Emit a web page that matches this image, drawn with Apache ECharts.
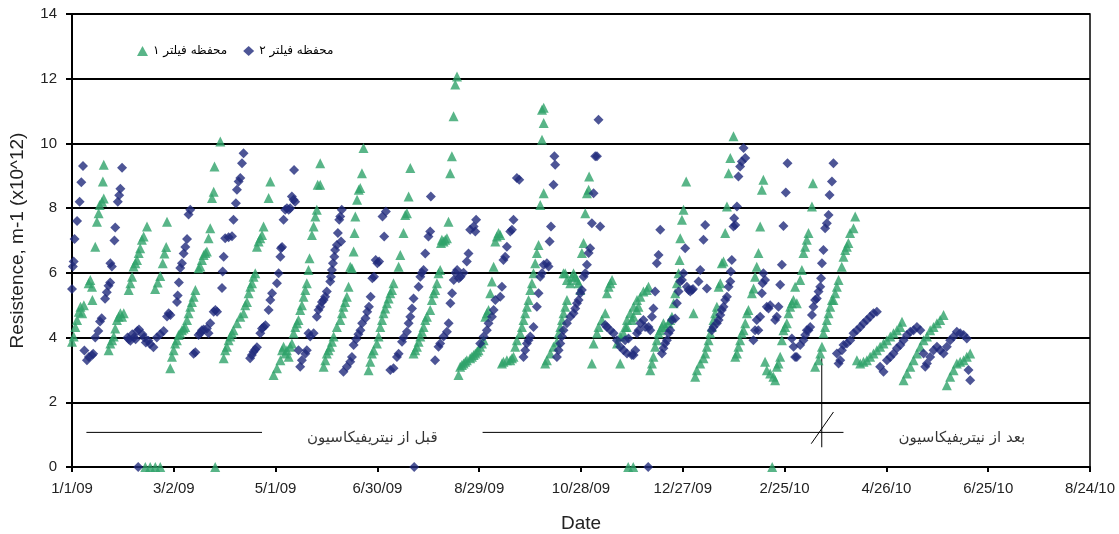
<!DOCTYPE html>
<html>
<head>
<meta charset="utf-8">
<script src="https://cdn.jsdelivr.net/npm/echarts@6/dist/echarts.min.js"></script>
<style>
html,body{margin:0;padding:0;background:#fff;}
#chart{width:1119px;height:534px;}
</style>
</head>
<body>
<div id="chart"></div>
<script>
// x values are days after 1/1/09
const tickLabels = ['1/1/09','3/2/09','5/1/09','6/30/09','8/29/09','10/28/09','12/27/09','2/25/10','4/26/10','6/25/10','8/24/10'];
const seriesNames = ['محفظه فیلتر ۱', 'محفظه فیلتر ۲'];
const noteBefore = 'قبل از نیتریفیکاسیون';
const noteAfter = 'بعد از نیتریفیکاسیون';

const filter1Points = [
 [0,3.87],[1,4.03],[2,4.33],[3,4.54],[4,4.8],[5,4.95],[6,4.75],[7,5.0],[9.8,5.68],[10.8,5.78],[11.8,5.57],[12,5.16],[13.7,6.81],[14.7,7.58],[15.7,7.84],[16.3,8.1],[17.7,8.2],[18.7,8.3],[18.2,8.82],[18.7,9.34],
 [21.6,3.61],[22.6,3.82],[23.6,3.92],[24.6,4.03],[25.5,4.28],[26.5,4.54],[27.5,4.64],[28.5,4.75],[29.5,4.64],[30.5,4.75],[33.4,5.47],[34.4,5.68],[35.4,5.88],[36.3,6.2],[37.3,6.3],[38.3,6.4],[39.3,6.61],[40.2,6.76],[41.2,7.02],[42.2,7.12],[44.2,7.43],
 [49,5.5],[50.5,5.7],[52,5.9],[53.5,6.3],[54.5,6.6],[55.5,6.8],[56,7.58],
 [57.9,3.05],[58.9,3.41],[59.9,3.61],[60.8,3.82],[61.8,3.92],[62.8,4.08],[63.8,4.13],[64.8,4.23],[65.8,4.28],[66.8,4.33],[67.8,4.54],[68.7,4.75],[69.7,4.95],[70.7,5.1],[71.7,5.26],[72.7,5.47],[74.6,6.14],[75.6,6.2],[76.6,6.4],[77.6,6.55],[78.6,6.61],[79.5,6.66],[80.5,7.07],[81.5,7.38],[82.5,8.31],[83.5,8.51],[84,9.29],[87.4,10.06],
 [89.4,3.36],[90.3,3.61],[91.3,3.72],[92.3,3.92],[93.3,4.03],[94.3,4.13],[95.2,4.23],[97.2,4.44],[99.2,4.64],[101.1,4.75],[102.1,5.0],[103.1,5.1],[104.1,5.37],[105.1,5.57],[106.1,5.68],[107,5.88],[108,5.99],[109,6.81],[110,6.97],[111,7.07],[112,7.17],[112.9,7.43],[115.9,8.31],[116.9,8.82],
 [118.8,2.84],[120.8,3.05],[122.8,3.3],[123.8,3.61],[124.7,3.72],[125.7,3.51],[126.7,3.61],[127.7,3.41],[128.6,3.72],[129.6,3.82],[130.6,4.13],[131.6,4.33],[132.6,4.44],[133.5,4.54],[134.5,4.85],[135.5,5.0],[136.5,5.26],[137.5,5.47],[138.4,5.68],[139.4,6.09],[140,6.45],[141.4,7.17],[142.4,7.43],[143.4,7.74],[144.3,7.95],[144.8,8.72],[146.3,8.72],[146.3,9.39],
 [148.3,3.1],[149.3,3.3],[150.2,3.51],[151.2,3.61],[152.2,3.72],[153.2,3.87],[154.2,4.03],[156.1,4.33],[158.1,4.54],[159.1,4.75],[160,4.95],[161,5.1],[162,5.26],[163,5.57],[164,6.19],[165,6.14],[166,6.66],[166.5,7.23],[167,7.74],[168,8.26],[169,8.57],[169.9,8.62],[170.9,9.08],[171.8,9.86],
 [174.8,2.99],[175.8,3.25],[176.8,3.51],[177.8,3.61],[179.7,3.82],[180.7,4.03],[181.7,4.33],[182.7,4.54],[183.6,4.75],[184.6,4.9],[185.6,5.06],[186.6,5.21],[187.6,5.37],[188.6,5.47],[189.5,5.68],[192.5,6.19],[193.5,6.55],[195.4,7.23],[196.4,7.79],[197.4,7.84],[198.4,8.36],[199.4,9.24],
 [201.3,3.51],[202.3,3.61],[203.3,3.72],[204.3,3.87],[205.3,4.03],[206.2,4.18],[207.2,4.33],[208.2,4.54],[209.2,4.64],[211.1,4.85],[212.1,5.16],[213.1,5.37],[214.1,5.47],[215.1,5.68],[216,5.99],[217,6.09],[217.5,6.92],[218,7.02],[219,6.97],[220,7.02],[221,7.07],[221.9,7.58],[222.9,9.08],[223.9,9.6],[224.9,10.84],[225.9,11.82],[226.9,12.07],
 [227.8,2.84],[228.8,3.1],[229.8,3.15],[230.8,3.2],[231.8,3.25],[232.7,3.3],[234.7,3.36],[235.7,3.41],[236.7,3.46],[237.7,3.51],[238.7,3.56],[239.6,3.61],[240.6,3.72],[241.6,3.82],[242.6,3.92],[243.6,4.64],[244.5,4.75],[245.5,4.85],[246.5,5.37],[247.5,5.73],[248.5,6.19],[249.5,6.97],[250.4,7.12],[251.4,7.23],[252.4,7.17],
 [253.4,3.2],[254.3,3.25],[256.3,3.3],[258.3,3.3],[259.3,3.36],[260.2,3.41],[261.2,3.72],[262.2,3.92],[264.2,4.13],[265.2,4.33],[266.1,4.54],[267.1,4.75],[268.1,4.95],[269.1,5.16],[270.1,5.47],[271.1,5.68],[272,5.99],[273,6.3],[274,6.61],[275,6.86],[276,8.1],[278,8.46],[277,10.11],[278,10.63],[277,11.04],[278,11.1],
 [278.9,3.2],[279.9,3.3],[281.9,3.51],[283.8,3.72],[285.8,3.87],[286.8,4.13],[287.8,4.33],[288.8,4.54],[289.7,4.75],[290.7,4.95],[291.7,5.16],[289.7,5.99],[290.7,5.99],[291.7,5.78],[293.7,5.68],[294.6,5.88],[295.6,5.99],[296.6,5.88],[297.6,5.78],[298.6,5.68],[299.6,5.47],[300.5,6.61],[301.5,6.92],[302.5,7.84],[303.5,8.46],[304.5,8.57],[304.8,8.98],
 [306.4,3.2],[307.4,3.82],[309.4,4.13],[310.3,4.33],[312.3,4.54],[314.3,4.75],[315.3,5.37],[316.3,5.57],[317.3,5.68],[318.3,5.78],[321.2,3.82],[323.1,4.03],[326.1,4.33],[327.1,4.54],[329,4.75],[330,4.54],[331,4.64],[332.9,4.85],[333.9,4.95],[323.1,3.2],[325,4.13],[327,4.33],[331,4.95],[333,5.16],[335,5.26],[336.8,5.42],[338.8,5.47],[339.8,5.57],
 [340.8,2.99],[341.8,3.2],[342.7,3.41],[343.7,3.72],[344.7,3.92],[345.7,4.13],[346.7,4.23],[347.7,4.33],[348.6,4.44],[349.6,4.33],[351.6,4.44],[352.6,4.54],[353.6,4.64],[354.6,5.06],[355.5,5.37],[356.5,5.68],[357.5,5.99],[358.1,6.4],[358.5,7.07],[359.5,7.64],[360.4,7.95],[362,8.82],[366.3,4.75],
 [367.3,2.79],[368.3,2.99],[370.3,3.2],[372.2,3.36],[373.2,3.51],[374.2,3.72],[375.2,3.92],[376.2,4.13],[377.1,4.33],[378.1,4.54],[379.1,4.75],[380.1,4.95],[381.1,5.57],[382.1,5.68],[383,6.3],[384,6.35],[385,7.23],[386,8.05],[387,9.08],[388,9.55],[389.9,10.22],
 [390.9,3.41],[391.9,3.51],[392.8,3.72],[393.8,3.92],[394.8,4.13],[395.8,4.23],[396.8,4.44],[397.8,4.75],[398.7,4.85],[400.7,5.37],[401.7,5.52],[402.6,5.88],[403.6,6.19],[404.6,6.61],[405.6,7.43],[406.6,8.57],[407.5,8.88],
 [408.5,3.25],[409.5,2.99],[411.5,2.89],[413.4,2.79],[414.4,2.68],[415.4,3.1],[416.4,3.2],[417.4,3.41],[418.4,3.92],[419.3,4.23],[420.3,4.33],[421.3,4.44],[422.3,4.75],[423.3,4.95],[424.3,5.06],[425.2,5.16],[426.2,5.57],[427.2,5.06],[429.2,5.78],[430.2,6.09],[431.1,6.61],[432.1,6.81],[433.1,7.02],[434.1,7.23],[436.1,8.05],[436.7,8.77],
 [438,3.1],[440,3.3],[441,3.51],[442,3.72],[442.9,4.13],[443.9,4.33],[444.9,4.54],[445.9,4.75],[446.9,4.95],[447.9,5.16],[448.8,5.16],[449.8,5.37],[450.8,5.57],[451.8,5.78],[453.7,6.19],[454.7,6.5],[455.7,6.71],[456.7,6.81],[457.6,6.92],[458.6,7.23],[460.6,7.38],[461.6,7.74],
 [462.6,3.3],[464.6,3.2],[466.5,3.25],[468.5,3.3],[470.4,3.41],[472.4,3.51],[474.4,3.61],[476.3,3.72],[478.3,3.82],[480.3,3.92],[482.3,4.03],[484.2,4.13],[486.2,4.23],[488.2,4.33],[489.2,4.49],
 [490.1,2.68],[492.1,2.89],[494.1,3.1],[496,3.3],[498,3.51],[500,3.72],[501.9,3.92],[503.9,4.03],[505.8,4.23],[507.8,4.33],[509.8,4.44],[511.7,4.54],[513.7,4.7],
 [515.6,2.53],[517.6,2.79],[519.6,2.99],[521.5,3.2],[523.5,3.25],[525.5,3.3],[527.4,3.41],[529.4,3.51],
 [43.2,0],[46.1,0],[49.1,0],[52,0],[84.4,0],[327.8,0],[330.8,0],[412.7,0]
];

const filter2Points = [
 [0,5.5],[0.5,6.2],[1,6.35],[1.5,7.05],[3,7.6],[4.5,8.2],[5.5,8.8],[6.5,9.3],
 [7.3,3.6],[8.8,3.3],[10,3.4],[11.8,3.45],[12.5,3.5],
 [13.7,4.0],[15.5,4.2],[16.5,4.5],[17.5,4.6],[19.5,5.2],[20.5,5.4],[21.5,5.6],[22.5,5.7],[22.6,6.3],[23.5,6.2],[25,7.0],[25.5,7.4],[27,8.2],[27.8,8.4],[28.5,8.6],[29.5,9.25],
 [32.7,4.0],[33.5,3.95],[34.4,3.9],[35.5,4.1],[36.5,4.0],[37.5,3.95],[38.5,4.2],[39.5,4.25],[41.5,4.1],[42.5,4.0],[43.5,3.85],[45,3.9],[46,3.8],[48,3.7],[50,4.0],[52,4.1],[54,4.2],[56,4.65],[57,4.75],[58,4.7],[61.9,5.1],[62.3,5.3],[63,5.7],[63.8,6.15],[64.8,6.3],[65.8,6.6],[66.8,6.8],[67.8,7.05],[68.7,7.8],[69.7,7.95],
 [71.7,3.5],[72.7,3.55],[74.6,4.08],[75.6,4.13],[76.6,4.23],[77.6,4.25],[79.5,4.28],[80.5,4.13],[81.5,4.44],[83.5,4.8],[84.5,4.85],[85.5,4.8],[88.4,5.53],[88.8,6.04],[89.4,6.5],[90.3,7.07],[92.3,7.1],[94.3,7.13],[95.2,7.64],[96.6,8.15],[97.2,8.57],[98.2,8.82],[99.2,8.93],[100.2,9.39],[101.1,9.7],
 [105,3.36],[106,3.46],[107,3.56],[108,3.63],[109,3.7],[111,4.13],[112,4.28],[113,4.33],[114,4.38],[115.9,4.85],[116.9,5.16],[117.9,5.37],[120.8,5.68],[121.8,5.99],[122.8,6.5],[123.2,6.76],[123.8,6.8],[124.7,7.64],[125.7,7.95],[126.7,8.0],[127.7,7.95],[128.6,8.0],[129.6,8.36],[130.6,8.26],[131.5,8.2],[130.9,9.18],
 [133.5,3.61],[134.5,3.1],[135.5,3.3],[137.5,3.5],[138.4,3.61],[139.4,4.13],[140.4,4.03],[142.4,4.13],[144.3,4.64],[145.3,4.85],[146.3,4.95],[147.3,5.1],[148.3,5.16],[149.2,5.26],[150.2,5.42],[152.2,5.73],[152.6,5.88],[153.2,6.09],[153.8,6.3],[154.6,6.5],[155.1,6.71],[156.1,6.86],[156.7,7.23],[157.5,7.64],[158.1,7.74],[159,7.95],[158.6,6.97],
 [160,2.94],[162,3.1],[164,3.25],[165,3.4],[166,3.77],[167.5,3.95],[168.8,4.1],[170,4.23],[171,4.44],[173,4.6],[174,4.8],[175,4.95],[176,5.26],[177,5.83],[178,5.88],[179,6.4],[180,6.3],[181,6.35],[183,7.74],[184,7.12],[185,7.9],
 [187.6,3.0],[189.5,3.05],[191.5,3.4],[192.5,3.5],[194.5,3.87],[195.4,4.0],[197.4,4.18],[198.4,4.44],[199.4,4.64],[200.4,4.9],[201.3,5.21],[204.3,5.57],[205.3,5.88],[206.2,6.0],[207.2,6.09],[208.2,6.6],[210.1,7.12],[211.1,7.28],[211.5,8.36],
 [214,3.3],[216,3.72],[217,3.82],[219,4.03],[221,4.18],[222,4.44],[223,5.06],[224,5.37],[225,5.78],[226,6.0],[227,6.09],[228,5.83],[229,5.88],[230.8,6.0],[232.7,6.35],[233.7,6.6],[234.7,7.33],[236.7,7.43],[237.7,7.28],[238.2,7.64],
 [240.6,3.82],[242.6,4.03],[244.5,4.23],[245.5,4.44],[247.5,4.64],[248.5,4.85],[249.5,5.16],[252.4,5.26],[253.4,5.57],[254.3,6.4],[255.3,6.5],[256.3,6.81],[258.3,7.28],[259.3,7.33],[260.2,7.64],[262.2,8.93],[263.6,8.88],
 [266.1,3.4],[267.1,3.61],[268.1,3.82],[269.1,3.92],[270.1,4.03],[272,4.33],[274,4.95],[275,5.37],[276,5.88],[277,5.99],[278,6.25],[279.9,6.3],[280.9,6.2],[281.5,6.97],[282.3,7.43],[283.8,8.72],[284.8,9.34],[284.3,9.6],
 [285.8,3.4],[286.8,3.61],[287.8,3.82],[288.8,4.03],[289.7,4.23],[291.7,4.44],[293.7,4.64],[295.6,4.75],[296.6,4.9],[297.6,5.06],[298.6,5.16],[299.6,5.37],[300.5,5.47],[301.5,5.88],[302.5,5.99],[303.5,6.25],[304.5,6.61],[305.4,6.76],[306.4,7.53],[307.4,8.46],[308.4,9.6],[309.4,9.6],[310.3,10.73],[311.3,7.43],
 [314.3,4.39],[315.3,4.33],[317.3,4.23],[319.2,4.13],[321.2,3.92],[323.1,3.72],[325.1,3.61],[327.1,3.51],[330,3.46],[332,3.61],[326,3.92],[328,3.97],[331,3.46],[333,4.13],[334,4.23],[335,4.44],[336.8,4.54],[337.8,4.33],[339.8,4.33],[340.8,4.23],[341.8,4.64],[342.7,4.9],[343.7,5.42],[344.7,6.3],[345.7,6.55],[346.7,7.33],
 [347.7,3.51],[348.6,3.67],[349.6,3.82],[350.6,3.92],[351.6,4.13],[352.6,4.23],[353.6,4.54],[355.5,4.59],[356.5,5.06],[357.5,5.42],[358.5,5.73],[359.5,5.78],[360.4,5.99],[361.4,6.76],[362.4,5.57],[363.4,5.47],[364.4,5.42],[365.4,5.47],[366,5.5],[369.3,5.73],[370.3,6.09],[372.2,7.02],[373.2,7.48],[374.2,5.52],
 [377.1,4.23],[378.1,4.33],[380.1,4.44],[381.1,4.54],[382.1,4.7],[383,4.85],[384,4.95],[385,5.16],[386,5.26],[387,5.57],[388,5.73],[388.3,6.04],[388.9,6.4],[389.9,7.43],[390.9,7.48],[390.3,7.69],[391.9,8.05],[392.8,8.98],[393.8,9.29],[394.8,9.44],[396.8,9.55],[395.8,9.86],
 [401.6,3.92],[402.6,4.23],[403.6,4.54],[404.5,4.23],[405.6,4.64],[406.6,5.37],[407,5.68],[407.5,5.99],[408.5,5.78],[409.5,4.95],[410.5,4.9],[411.5,5.0],[414.4,4.54],[415.4,4.64],[416.4,4.95],[417.4,5.63],[418.4,6.25],[419.3,7.45],[420.7,8.48],[421.7,9.39],
 [424.3,3.97],[425.3,3.72],[426.2,3.4],[427.2,3.4],[429.2,3.77],[431.1,3.92],[432.1,4.08],[433.1,4.23],[434.1,4.23],[435.1,4.33],[436.1,4.7],[437,4.95],[438,5.16],[439,5.21],[440,5.42],[441,5.57],[441.5,5.83],[442,6.3],[442.9,6.71],[443.9,7.38],[444.9,7.53],[445.9,7.79],[446.5,8.41],[447.9,8.82],[448.8,9.39],
 [450.8,3.51],[451.8,3.2],[452.8,3.3],[453.8,3.61],[454.7,3.77],[456.7,3.82],[458.7,3.92],[460.6,4.13],[462.6,4.23],[464.6,4.33],[466.5,4.44],[468.5,4.54],[470.4,4.64],[472.4,4.75],[474.4,4.8],
 [476.3,3.1],[478.3,2.94],[480.3,3.3],[482.3,3.4],[484.2,3.51],[486.2,3.67],[488.2,3.77],[490.1,3.92],[492.1,4.08],[494.1,4.18],[496,4.23],[498,4.33],[500,4.23],
 [501.9,3.51],[502.9,3.1],[503.9,3.2],[505.8,3.4],[507.8,3.61],[509.8,3.72],[511.7,3.61],[513.7,3.51],[515.6,3.72],[517.6,3.92],[519.6,4.03],[521.5,4.18],[523.5,4.13],[525.5,4.08],[527.4,3.97],[528.4,3.0],[529.4,2.68],
 [39,0],[201.7,0],[339.6,0]
];

// annotation geometry in data units (day, value)
const beforeLine = [[8.5,1.07],[112,1.07]];
const afterLine = [[242,1.07],[454.7,1.07]];
const breakLine = [[441.9,0.61],[441.9,3.36]];
const slashLine = [[435.7,0.72],[448.8,1.70]];
const beforeTextAt = [177,0.9];
const afterTextAt = [524.5,0.9];

const chart = echarts.init(document.getElementById('chart'));
const latin = 'Liberation Sans, Arial, sans-serif';
const persian = 'DejaVu Sans, sans-serif';

function segment(pts) {
  return {
    type: 'line', data: pts, symbol: 'none', silent: true, z: 1,
    lineStyle: {color: '#000', width: 1}, animation: false
  };
}
function note(at, text) {
  return {
    type: 'scatter', data: [at], symbol: 'rect', symbolSize: 1, silent: true,
    itemStyle: {color: 'rgba(0,0,0,0)'},
    label: {show: true, position: 'inside', formatter: text, color: '#000',
            fontFamily: persian, fontSize: 15},
    animation: false
  };
}

chart.setOption({
  animation: false,
  backgroundColor: '#fff',
  grid: {left: 72, right: 29, top: 14, bottom: 67, show: true, borderColor: '#000', borderWidth: 1.5,
         containLabel: false, outerBoundsMode: 'none'},
  legend: {
    data: seriesNames, left: 132, top: 40, itemGap: 16, itemWidth: 11, itemHeight: 10,
    textStyle: {fontFamily: persian, fontSize: 12, color: '#000'}
  },
  xAxis: {
    type: 'value', min: 0, max: 600, interval: 60,
    name: 'Date', nameLocation: 'middle', nameGap: 47,
    nameTextStyle: {fontFamily: latin, fontSize: 19, color: '#222'},
    axisLine: {lineStyle: {color: '#000', width: 2}},
    axisTick: {show: true, length: 5, lineStyle: {color: '#000', width: 2}},
    axisLabel: {formatter: v => tickLabels[Math.round(v / 60)], fontFamily: latin, fontSize: 15, color: '#222', margin: 14},
    splitLine: {show: false}
  },
  yAxis: {
    type: 'value', min: 0, max: 14, interval: 2,
    name: 'Resistence, m-1 (x10^12)', nameLocation: 'middle', nameGap: 45,
    nameTextStyle: {fontFamily: latin, fontSize: 19, color: '#222'},
    axisLine: {show: true, lineStyle: {color: '#000', width: 2}},
    axisTick: {show: true, length: 6, lineStyle: {color: '#000', width: 2}},
    axisLabel: {fontFamily: latin, fontSize: 15, color: '#222', margin: 15},
    splitLine: {show: true, lineStyle: {color: '#000', width: 2}}
  },
  series: [
    {name: seriesNames[0], type: 'scatter', data: filter1Points, symbol: 'triangle', symbolSize: 10,
     itemStyle: {color: '#2fa36a'}, z: 3},
    {name: seriesNames[1], type: 'scatter', data: filter2Points, symbol: 'diamond', symbolSize: 10,
     itemStyle: {color: '#202a7c'}, z: 4},
    segment(beforeLine), segment(afterLine), segment(breakLine), segment(slashLine),
    note(beforeTextAt, noteBefore), note(afterTextAt, noteAfter)
  ]
});
</script>
</body>
</html>
